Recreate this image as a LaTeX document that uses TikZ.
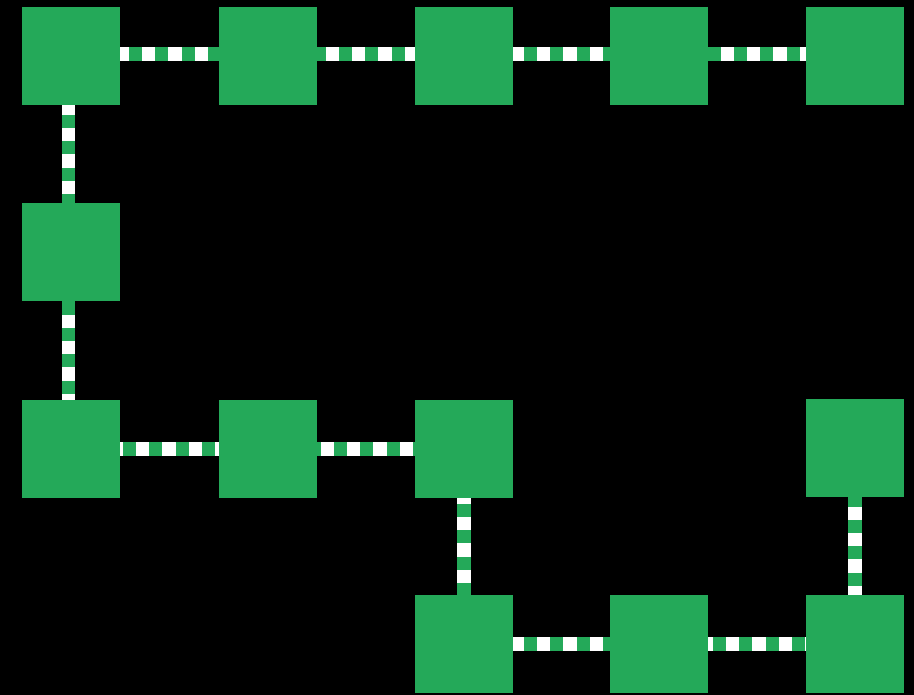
\documentclass[tikz,border=0pt]{standalone}
\definecolor{sqgreen}{RGB}{36,169,89}
\tikzset{
  sq/.style={fill=sqgreen, draw=none, inner sep=0pt, minimum size=98pt, anchor=north west},
  conn/.style={line width=13.5pt, draw=white,
    postaction={draw=sqgreen, line width=13.5pt, dash pattern=on 13.2pt off 13.2pt, dash phase=#1}},
  conn/.default=0
}
\begin{document}
\begin{tikzpicture}[x=1pt,y=-1pt]
\fill[black] (0,0) rectangle (914,695);
\useasboundingbox (0,0) rectangle (914,695);
% row 1
\node[sq] (a1) at (22,7) {};
\node[sq] (a2) at (219,7) {};
\node[sq] (a3) at (415,7) {};
\node[sq] (a4) at (610,7) {};
\node[sq] (a5) at (806,7) {};
% row 2
\node[sq] (b1) at (22,203) {};
% row 3
\node[sq] (c1) at (22,400) {};
\node[sq] (c2) at (219,400) {};
\node[sq] (c3) at (415,400) {};
\node[sq] (c5) at (806,399) {};
% row 4
\node[sq] (d3) at (415,595) {};
\node[sq] (d4) at (610,595) {};
\node[sq] (d5) at (806,595) {};
% connectors
\draw[conn=18] ([yshift=2pt]a1.east) -- ([yshift=2pt]a2.west);
\draw[conn=5]  ([yshift=2pt]a2.east) -- ([yshift=2pt]a3.west);
\draw[conn=16] ([yshift=2pt]a3.east) -- ([yshift=2pt]a4.west);
\draw[conn=1]  ([yshift=2pt]a4.east) -- ([yshift=2pt]a5.west);
\draw[conn=17] ([xshift=-2.5pt]a1.south) -- ([xshift=-2.5pt]b1.north);
\draw[conn=0]  ([xshift=-2.5pt]b1.south) -- ([xshift=-2.5pt]c1.north);
\draw[conn=24] (c1.east) -- (c2.west);
\draw[conn=10] (c2.east) -- (c3.west);
\draw[conn=21] (c3.south) -- (d3.north);
\draw[conn=16] (d3.east) -- (d4.west);
\draw[conn=22] (d4.east) -- (d5.west);
\draw[conn=4]  (c5.south) -- (d5.north);
\end{tikzpicture}
\end{document}
